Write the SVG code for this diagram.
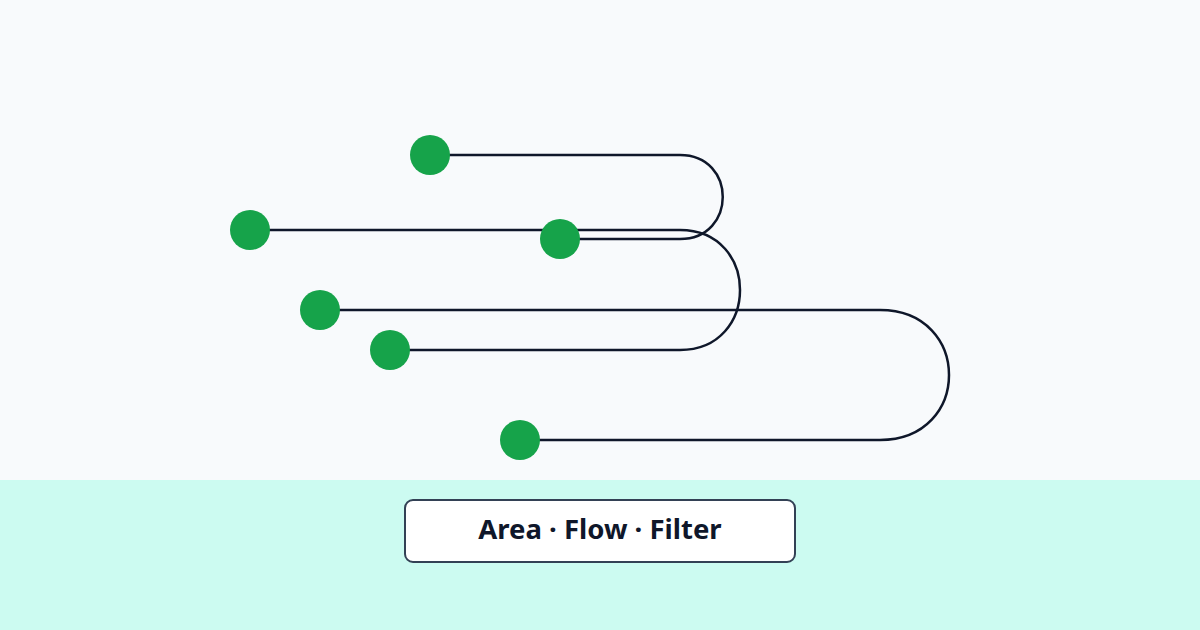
<svg xmlns="http://www.w3.org/2000/svg" width="1200" height="630" viewBox="0 0 1200 630">
<style>
.wire{fill:none;stroke:#0f172a;stroke-width:2.5}
.dot{fill:#16a34a}
.lbl{font-family:"Noto Sans","Liberation Sans",sans-serif;font-weight:700;font-size:27.5px;fill:#0f172a}
</style>
<rect x="0" y="0" width="1200" height="480" fill="#f8fafc"/>
<rect x="0" y="480" width="1200" height="150" fill="#ccfbf1"/>
<g id="connectors">
<path class="wire" d="M430,155 H680 C737,155 737,239 680,239 H560"/>
<path class="wire" d="M250,230 H680 C760,230 760,350 680,350 H390"/>
<path class="wire" d="M320,310 H880 C972,310 972,440 880,440 H520"/>
</g>
<g id="n1"><circle class="dot" cx="430" cy="155" r="20"/></g>
<g id="n2"><circle class="dot" cx="250" cy="230" r="20"/></g>
<g id="n3"><circle class="dot" cx="560" cy="239" r="20"/></g>
<g id="n4"><circle class="dot" cx="320" cy="310" r="20"/></g>
<g id="n5"><circle class="dot" cx="390" cy="350" r="20"/></g>
<g id="n6"><circle class="dot" cx="520" cy="440" r="20"/></g>
<g id="label">
<rect x="405" y="500" width="390" height="62" rx="8" fill="#ffffff" stroke="#334155" stroke-width="2"/>
<text class="lbl" x="600" y="539" text-anchor="middle">Area · Flow · Filter</text>
</g>
</svg>
